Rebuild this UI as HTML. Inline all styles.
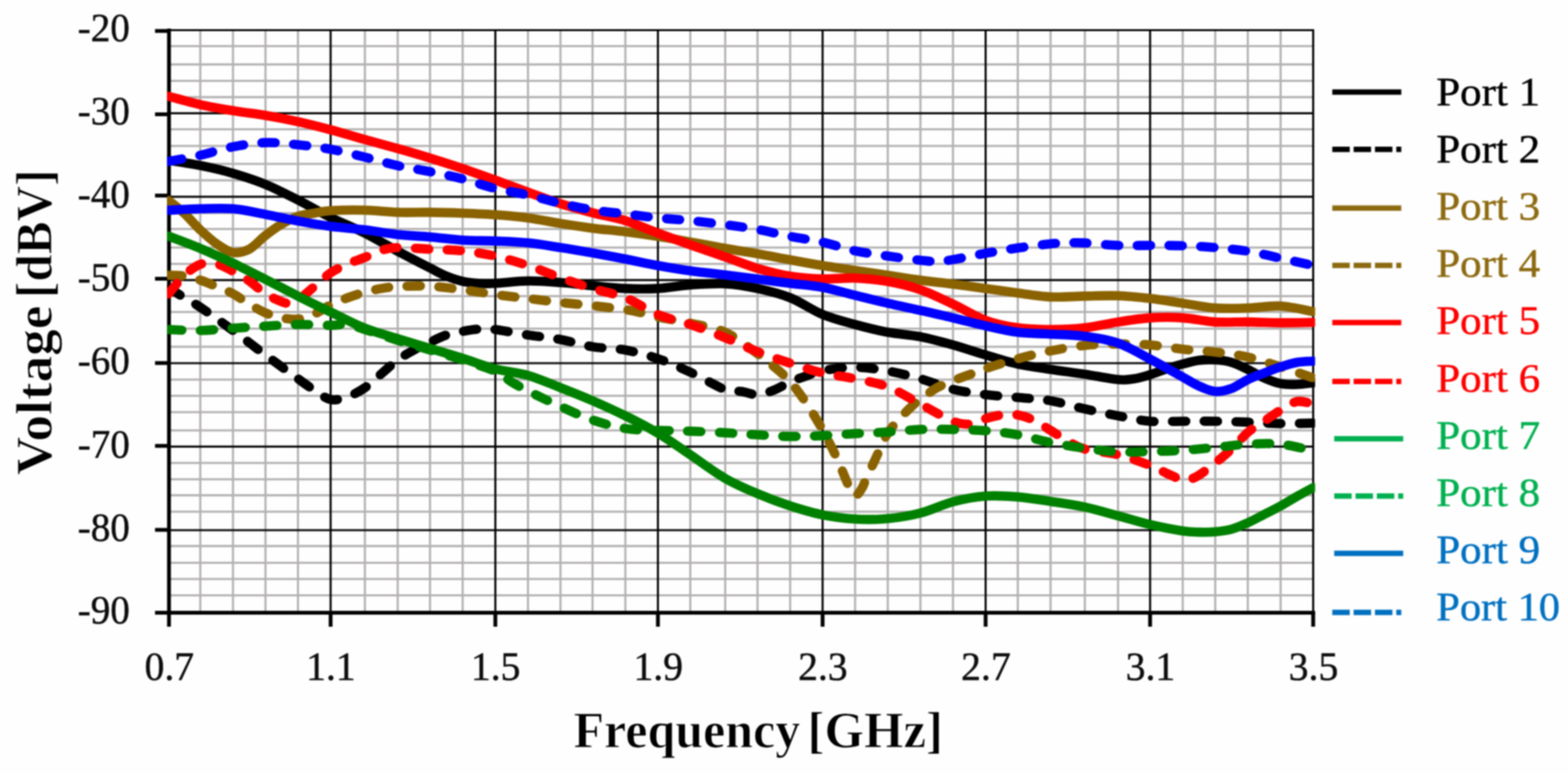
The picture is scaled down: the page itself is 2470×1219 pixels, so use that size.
<!DOCTYPE html>
<html lang="en"><head><meta charset="utf-8"><title>Voltage vs Frequency</title>
<style>html,body{margin:0;padding:0;background:#fff;}body{width:2470px;height:1219px;overflow:hidden;}svg{display:block;}text{font-family:'Liberation Serif', 'DejaVu Serif', serif;}</style></head><body>
<svg width="2470" height="1219" viewBox="0 0 2470 1219">
<rect width="2470" height="1219" fill="#fefefe"/>
<defs><filter id="soft" x="-2%" y="-2%" width="104%" height="104%" color-interpolation-filters="sRGB"><feGaussianBlur stdDeviation="1.1"/></filter></defs>
<g filter="url(#soft)">
<g stroke="#b3b0b0" stroke-width="3.3" fill="none">
<path d="M315.5 47.5V965M367 47.5V965M418.2 47.5V965M469.4 47.5V965M574.8 47.5V965M626.5 47.5V965M677.4 47.5V965M728.8 47.5V965M831.7 47.5V965M882.9 47.5V965M933.4 47.5V965M985.1 47.5V965M1087.4 47.5V965M1142.4 47.5V965M1193.3 47.5V965M1244.7 47.5V965M1347 47.5V965M1398.5 47.5V965M1449.9 47.5V965M1501.2 47.5V965M1603.3 47.5V965M1654.9 47.5V965M1708.9 47.5V965M1761.2 47.5V965M1863.1 47.5V965M1914.3 47.5V965M1965.6 47.5V965M2017.3 47.5V965M266.2 72.6H2068.6M266.2 101.5H2068.6M266.2 127.4H2068.6M266.2 153H2068.6M266.2 203.6H2068.6M266.2 229.8H2068.6M266.2 258.1H2068.6M266.2 284H2068.6M266.2 335.7H2068.6M266.2 360.6H2068.6M266.2 389.9H2068.6M266.2 415.7H2068.6M266.2 466.4H2068.6M266.2 491.4H2068.6M266.2 517.6H2068.6M266.2 546.1H2068.6M266.2 597.8H2068.6M266.2 623.4H2068.6M266.2 649.2H2068.6M266.2 677.8H2068.6M266.2 729.2H2068.6M266.2 754.8H2068.6M266.2 780H2068.6M266.2 805.8H2068.6M266.2 860H2068.6M266.2 886.4H2068.6M266.2 911.9H2068.6M266.2 937.7H2068.6"/>
</g>
<g stroke="#000" stroke-width="3.2" fill="none">
<path d="M520.8 45.9V965M780.3 45.9V965M1036.4 45.9V965M1295.8 45.9V965M1552.6 45.9V965M1811.7 45.9V965M2068.6 45.9V965M266.2 47.5H2070.2M266.2 178.4H2070.2M266.2 309.8H2070.2M266.2 441.2H2070.2M266.2 572H2070.2M266.2 703.4H2070.2M266.2 835H2070.2"/>
</g>
<g stroke="#000" fill="none">
<path d="M266.2 45V987" stroke-width="6"/>
<path d="M244.2 965H2071.6" stroke-width="6"/>
<path d="M520.8 965V987M780.3 965V987M1036.4 965V987M1295.8 965V987M1552.6 965V987M1811.7 965V987M2068.6 965V987M244.2 48.8H266.2M244.2 180.1H266.2M244.2 307.9H266.2M244.2 438.9H266.2M244.2 571.8H266.2M244.2 702.3H266.2M244.2 834.5H266.2" stroke-width="6"/>
</g>
<clipPath id="pc"><rect x="263.2" y="47.5" width="1808.4" height="917.5"/></clipPath>
<g fill="none" stroke-linejoin="round" stroke-linecap="round" clip-path="url(#pc)">
<path d="M265.6 252.4C273.9 253.8 298.6 257.3 315.5 260.7C332.4 264.1 349.9 268 367 273C384.1 278 401.1 283.5 418.2 290.4C435.3 297.4 452.3 306.3 469.4 315C486.5 323.7 503.2 333.8 520.8 342.5C538.4 351.2 557.2 358.3 574.8 367.2C592.4 376.1 609.4 386.6 626.5 395.7C643.6 404.9 664.6 415.6 677.4 422.1C690.2 428.6 694.5 431.3 703.1 434.8C711.7 438.3 720.2 441.2 728.8 443.1C737.4 445 746 445.7 754.5 446.2C763.1 446.8 767.4 446.9 780.3 446.2C793.2 445.6 814.6 442.7 831.7 442.5C848.8 442.2 866 443.7 882.9 445C899.8 446.2 916.4 448.4 933.4 450C950.4 451.6 967.9 453.7 985.1 454.4C1002.3 455.2 1019.4 455.4 1036.4 454.4C1053.5 453.5 1069.7 450 1087.4 448.8C1105.1 447.5 1124.8 445.9 1142.4 446.9C1160.1 447.8 1176.2 450.8 1193.3 454.4C1210.3 458.1 1227.6 462.1 1244.7 468.9C1261.8 475.7 1278.7 488.3 1295.8 495.3C1312.8 502.4 1329.9 506.4 1347 511.1C1364.1 515.7 1381.3 520.1 1398.5 523.3C1415.7 526.5 1432.8 527.1 1449.9 530.4C1467 533.8 1484.1 538.5 1501.2 543.2C1518.3 548 1535.6 554 1552.6 559C1569.6 564.1 1586.2 569.5 1603.3 573.3C1620.3 577.1 1637.3 579.1 1654.9 581.8C1672.5 584.5 1691.2 586.7 1708.9 589.4C1726.6 592.1 1748.3 596.6 1761.2 597.8C1774.1 599 1778 597.8 1786.5 596.5C1794.9 595.2 1803.2 592.6 1811.7 590.1C1820.2 587.5 1828.8 583.8 1837.4 581C1846 578.2 1854.6 575.5 1863.1 573.3C1871.7 571.1 1880.2 568.7 1888.7 567.6C1897.2 566.5 1905.8 566.3 1914.3 566.8C1922.8 567.3 1931.4 568.2 1939.9 570.7C1948.5 573.2 1957 577.7 1965.6 581.8C1974.2 585.9 1982.8 591.5 1991.4 595.2C2000.1 599 2008.7 602.5 2017.3 604.2C2025.9 605.9 2034.4 605.7 2042.9 605.5C2051.5 605.3 2064.3 603.3 2068.6 602.9" stroke="#000000" stroke-width="14.6"/>
<path d="M265.6 453.8C269.8 456.3 282.2 463.9 290.6 468.9C298.9 473.9 302.8 475.3 315.5 483.9C328.2 492.5 349.9 507.9 367 520.5C384.1 533 401.1 546.4 418.2 559C435.3 571.7 456.6 587.3 469.4 596.5C482.2 605.7 486.5 609 495.1 614.4C503.7 619.9 512 627.5 520.8 629.2C529.6 630.9 538.8 627.8 547.8 624.7C556.8 621.6 566 616.6 574.8 610.6C583.6 604.6 592 596.1 600.6 588.8C609.3 581.5 618 573.1 626.5 566.8C635 560.6 643.5 555.9 652 551.3C660.4 546.6 668.9 542.9 677.4 539C685.9 535 694.5 530.4 703.1 527.6C711.7 524.7 720.2 523.4 728.8 521.9C737.4 520.3 746 518.8 754.5 518.3C763.1 517.8 767.4 517.5 780.3 519C793.2 520.6 814.6 525 831.7 527.6C848.8 530.2 866 531.6 882.9 534.7C899.8 537.8 916.4 543.3 933.4 546.1C950.4 548.9 967.9 548.2 985.1 551.3C1002.3 554.4 1019.4 559.1 1036.4 564.9C1053.5 570.7 1069.7 578 1087.4 586.2C1105.1 594.3 1129 608.8 1142.4 613.8C1155.8 618.8 1159.4 615.2 1167.8 616.5C1176.3 617.8 1184.8 621.8 1193.3 621.5C1201.8 621.1 1210.4 617.7 1219 614.4C1227.6 611.1 1236.2 605.4 1244.7 601.6C1253.2 597.9 1261.7 595 1270.2 592C1278.8 589 1283 585.9 1295.8 583.6C1308.6 581.4 1329.9 578.3 1347 578.5C1364.1 578.6 1381.3 581.2 1398.5 584.3C1415.7 587.3 1432.8 591.7 1449.9 596.5C1467 601.3 1484.1 609 1501.2 613.2C1518.3 617.3 1535.6 619.3 1552.6 621.5C1569.6 623.6 1586.2 624.4 1603.3 626C1620.3 627.6 1637.3 628.1 1654.9 631.1C1672.5 634.1 1691.2 640.1 1708.9 644C1726.6 648 1744.1 651.7 1761.2 654.9C1778.3 658.2 1794.7 662.1 1811.7 663.5C1828.7 664.9 1846 663.5 1863.1 663.5C1880.2 663.5 1897.2 663.3 1914.3 663.5C1931.4 663.7 1948.4 664.3 1965.6 664.9C1982.8 665.5 2000.1 666.8 2017.3 667.1C2034.5 667.3 2060 666.5 2068.6 666.4" stroke="#000000" stroke-width="14.6" stroke-dasharray="21 29" stroke-linecap="round"/>
<path d="M265.6 315.8C269.8 319.2 282.2 328.7 290.6 336.4C298.9 344.2 307.1 354.1 315.5 362.1C324 370 332.7 378.1 341.2 384C349.8 390 358.4 396.2 367 397.6C375.6 399 384.1 396.9 392.6 392.5C401.1 388 409.7 377.4 418.2 370.9C426.7 364.3 435.3 358.2 443.8 353.1C452.3 348.1 460.9 343.6 469.4 340.7C478 337.8 486.5 337.2 495.1 335.7C503.7 334.2 507.5 332.6 520.8 331.8C534.1 331 557.2 330.6 574.8 331C592.4 331.5 609.4 333.8 626.5 334.4C643.6 335 660.4 334.2 677.4 334.4C694.5 334.6 711.6 335.1 728.8 335.7C745.9 336.3 763.1 336.9 780.3 338.2C797.5 339.4 814.6 340.9 831.7 343.2C848.8 345.5 866 349.2 882.9 351.9C899.8 354.6 916.4 357.2 933.4 359.4C950.4 361.5 967.9 362.8 985.1 365C1002.3 367.2 1019.4 369.6 1036.4 372.3C1053.5 375 1069.7 378 1087.4 381.1C1105.1 384.3 1124.8 388.1 1142.4 391.2C1160.1 394.3 1176.2 396.6 1193.3 399.6C1210.3 402.6 1227.6 406.1 1244.7 409.2C1261.8 412.4 1278.7 415.5 1295.8 418.2C1312.8 421 1329.9 423.3 1347 425.9C1364.1 428.4 1381.3 431 1398.5 433.5C1415.7 436.1 1432.8 438.9 1449.9 441.2C1467 443.5 1484.1 445.3 1501.2 447.5C1518.3 449.7 1535.6 452.1 1552.6 454.4C1569.6 456.7 1586.2 459.2 1603.3 461.4C1620.3 463.6 1637.3 466.8 1654.9 467.6C1672.5 468.5 1691.2 466.7 1708.9 466.4C1726.6 466.1 1744.1 465.1 1761.2 465.8C1778.3 466.4 1794.7 468.2 1811.7 470.1C1828.7 472.1 1846 475.1 1863.1 477.6C1880.2 480.1 1897.2 483.9 1914.3 485.1C1931.4 486.4 1948.4 485.7 1965.6 485.1C1982.8 484.6 2000.1 481.1 2017.3 482C2034.5 483 2060 489.3 2068.6 490.8" stroke="#8a6200" stroke-width="14.6"/>
<path d="M265.6 433.5C269.8 433.8 282.2 433.5 290.6 434.8C298.9 436.1 307.1 438.5 315.5 441.2C324 443.9 332.7 447.7 341.2 451.3C349.8 454.8 358.4 458 367 462.6C375.6 467.2 384.1 473.9 392.6 478.9C401.1 483.9 409.7 489.1 418.2 492.7C426.7 496.3 435.3 498.9 443.8 500.6C452.3 502.2 460.9 503.5 469.4 502.5C478 501.6 486.5 498.4 495.1 494.7C503.7 490.9 512 484.4 520.8 480.1C529.6 475.9 538.8 472.2 547.8 468.9C556.8 465.6 566 462.5 574.8 460.1C583.6 457.7 592 455.9 600.6 454.4C609.3 453 613.7 451.9 626.5 451.3C639.3 450.7 660.4 449.9 677.4 450.8C694.5 451.6 711.6 454.1 728.8 456.3C745.9 458.5 763.1 461.6 780.3 463.9C797.5 466.2 814.6 468.1 831.7 470.1C848.8 472.2 866 474.5 882.9 476.4C899.8 478.3 916.4 479.5 933.4 481.4C950.4 483.3 972.2 485.8 985.1 487.7C998 489.5 1002.2 490.8 1010.8 492.7C1019.3 494.6 1023.6 496.5 1036.4 499.3C1049.2 502 1069.7 505.1 1087.4 509.1C1105.1 513.1 1124.8 515.3 1142.4 523.3C1160.1 531.3 1180.5 548.1 1193.3 557.1C1206.1 566.1 1210.4 569.8 1219 577.2C1227.6 584.5 1236.2 591.4 1244.7 601C1253.2 610.6 1261.7 622.3 1270.2 635C1278.8 647.7 1287.7 662.5 1295.8 677.1C1303.9 691.7 1311.4 706.6 1318.8 722.8C1326.3 738.9 1335.6 764.2 1340.6 773.7C1345.6 783.2 1346 780.8 1348.9 780C1351.8 779.2 1355.6 772.4 1357.9 768.7C1360.3 764.9 1358.6 767.1 1363.1 757.3C1367.6 747.5 1379.1 722.4 1385 709.9C1390.9 697.3 1393 690.8 1398.5 682.3C1404 673.7 1410.8 666.3 1417.8 658.6C1424.7 651 1434.9 641.1 1440.3 636.3C1445.6 631.5 1444.3 633.9 1449.9 629.9C1455.5 625.8 1465.1 616.9 1473.6 611.9C1482.2 606.9 1492 603.5 1501.2 599.7C1510.4 596 1520.3 592.6 1528.8 589.4C1537.4 586.2 1540.2 584.5 1552.6 580.4C1565 576.3 1586.2 569.6 1603.3 565C1620.3 560.4 1637.3 556.1 1654.9 552.6C1672.5 549.1 1691.2 545.8 1708.9 544C1726.6 542.2 1744.1 541.9 1761.2 541.8C1778.3 541.7 1794.7 541.9 1811.7 543.2C1828.7 544.6 1846 548.1 1863.1 550C1880.2 551.9 1897.2 552.5 1914.3 554.5C1931.4 556.6 1948.4 558.4 1965.6 562.3C1982.8 566.2 2000.1 572.3 2017.3 577.8C2034.5 583.3 2060 592.3 2068.6 595.2" stroke="#8a6200" stroke-width="14.6" stroke-dasharray="21 29" stroke-linecap="round"/>
<path d="M265.6 151.7C273.9 153.9 298.6 161 315.5 164.8C332.4 168.6 349.9 171.5 367 174.3C384.1 177.2 401.1 178.9 418.2 181.8C435.3 184.7 452.3 187.9 469.4 191.6C486.5 195.4 503.2 199.7 520.8 204.4C538.4 209.1 557.2 214.9 574.8 219.8C592.4 224.8 609.4 229.2 626.5 234C643.6 238.9 660.4 243.8 677.4 249C694.5 254.3 711.6 259.7 728.8 265.5C745.9 271.3 763.1 277.5 780.3 283.7C797.5 289.9 814.6 296.5 831.7 302.7C848.8 308.9 866 315.4 882.9 320.8C899.8 326.2 916.4 330.6 933.4 335.1C950.4 339.5 967.9 342.2 985.1 347.5C1002.3 352.9 1019.4 360.8 1036.4 367.2C1053.5 373.5 1069.7 379.4 1087.4 385.7C1105.1 391.9 1124.8 398.6 1142.4 404.7C1160.1 410.9 1176.2 417.7 1193.3 422.7C1210.3 427.7 1227.6 432.2 1244.7 435C1261.8 437.7 1278.7 438.8 1295.8 439.3C1312.8 439.8 1329.9 437.3 1347 438C1364.1 438.7 1381.3 440.3 1398.5 443.3C1415.7 446.4 1432.8 450.4 1449.9 456.3C1467 462.2 1484.1 470.9 1501.2 478.9C1518.3 486.9 1535.6 498.3 1552.6 504.5C1569.6 510.7 1586.2 513.9 1603.3 516.3C1620.3 518.7 1637.3 519 1654.9 519C1672.5 519 1691.2 518.3 1708.9 516.3C1726.6 514.3 1744.1 509.7 1761.2 507.1C1778.3 504.5 1794.7 501.7 1811.7 500.6C1828.7 499.5 1846 499.5 1863.1 500.6C1880.2 501.7 1897.2 506 1914.3 507.1C1931.4 508.2 1948.4 506.9 1965.6 507.1C1982.8 507.3 2000.1 508.3 2017.3 508.4C2034.5 508.5 2060 507.9 2068.6 507.8" stroke="#ff0000" stroke-width="14.6"/>
<path d="M265.6 462.6C269.8 457.8 282.2 441.3 290.6 433.5C298.9 425.8 307.1 419.3 315.5 416.3C324 413.4 332.7 413.9 341.2 415.7C349.8 417.5 358.4 422.7 367 427.2C375.6 431.6 384.1 436.6 392.6 442.5C401.1 448.4 409.7 457.2 418.2 462.6C426.7 468.1 437.4 472.6 443.8 475.2C450.2 477.7 452.3 478.1 456.6 477.6C460.9 477.2 463 477 469.4 472.6C475.8 468.3 486.5 458.4 495.1 451.3C503.7 444.1 512 435.7 520.8 429.7C529.6 423.8 538.8 419.8 547.8 415.7C556.8 411.6 566 408.9 574.8 405.4C583.6 401.8 592 397 600.6 394.4C609.3 391.8 613.7 390.2 626.5 389.9C639.3 389.6 660.4 391.6 677.4 392.5C694.5 393.3 711.6 393.2 728.8 395.1C745.9 396.9 763.1 399.6 780.3 403.4C797.5 407.3 814.6 412.6 831.7 418.2C848.8 423.9 866 431.3 882.9 437.4C899.8 443.4 916.4 449.2 933.4 454.4C950.4 459.7 967.9 462.1 985.1 468.9C1002.3 475.7 1019.4 488.3 1036.4 495.3C1053.5 502.4 1069.7 505 1087.4 511.1C1105.1 517.1 1124.8 524.7 1142.4 531.9C1160.1 539 1176.2 547.2 1193.3 553.9C1210.3 560.6 1227.6 566.4 1244.7 572C1261.8 577.6 1278.7 583.4 1295.8 587.5C1312.8 591.6 1329.9 592.9 1347 596.5C1364.1 600.1 1381.3 602.7 1398.5 609.3C1415.7 616 1432.8 627.3 1449.9 636.3C1467 645.3 1488.4 658.3 1501.2 663.5C1514 668.7 1518.3 668.5 1526.9 667.8C1535.5 667.1 1544.1 661.6 1552.6 659.2C1561.1 656.8 1569.5 654.4 1577.9 653.5C1586.4 652.5 1594.8 652.1 1603.3 653.5C1611.8 654.9 1620.5 658 1629.1 662.1C1637.7 666.1 1646.1 672.4 1654.9 677.8C1663.7 683.2 1672.9 689.5 1681.9 694.4C1690.9 699.4 1695.7 703.6 1708.9 707.3C1722.1 710.9 1744.1 712 1761.2 716.3C1778.3 720.6 1799 728.2 1811.7 733C1824.4 737.9 1828.8 741.4 1837.4 745.2C1846 749 1856.7 754.6 1863.1 756.1C1869.5 757.6 1871.6 755.4 1875.9 754.2C1880.2 752.9 1882.3 752.6 1888.7 748.4C1895.1 744.2 1905.8 736.1 1914.3 729.2C1922.8 722.3 1931.4 715.3 1939.9 707.3C1948.5 699.2 1957 688.3 1965.6 681C1974.2 673.7 1982.8 669.3 1991.4 663.5C2000.1 657.7 2008.7 651.2 2017.3 646C2025.9 640.8 2034.4 634 2042.9 632.4C2051.5 630.8 2064.3 635.7 2068.6 636.3" stroke="#ff0000" stroke-width="14.6" stroke-dasharray="21 29" stroke-linecap="round"/>
<path d="M265.6 371.9C273.9 375.1 298.6 384.1 315.5 391.2C332.4 398.3 349.9 406.3 367 414.4C384.1 422.5 401.1 431.3 418.2 439.9C435.3 448.6 452.3 457.8 469.4 466.4C486.5 475 503.2 483 520.8 491.4C538.4 499.8 557.2 510 574.8 516.9C592.4 523.9 609.4 528 626.5 533.3C643.6 538.6 660.4 543.5 677.4 548.7C694.5 553.8 711.6 558.8 728.8 564.2C745.9 569.6 763.1 576.5 780.3 581C797.5 585.5 814.6 586.4 831.7 591.3C848.8 596.3 866 604 882.9 610.6C899.8 617.2 916.4 623.8 933.4 631.1C950.4 638.5 967.9 646.4 985.1 654.9C1002.3 663.4 1019.4 672 1036.4 682.3C1053.5 692.5 1069.7 704.4 1087.4 716.3C1105.1 728.2 1124.8 743.3 1142.4 753.5C1160.1 763.7 1176.2 770.3 1193.3 777.5C1210.3 784.7 1227.6 791.2 1244.7 796.8C1261.8 802.3 1278.7 807.5 1295.8 810.9C1312.8 814.4 1329.9 816.5 1347 817.5C1364.1 818.5 1381.3 818.3 1398.5 816.8C1415.7 815.2 1432.8 812.4 1449.9 808C1467 803.6 1484.1 794.8 1501.2 790.3C1518.3 785.9 1535.6 782.6 1552.6 781.3C1569.6 780 1586.2 781.2 1603.3 782.6C1620.3 784 1637.3 787 1654.9 789.7C1672.5 792.4 1691.2 794.9 1708.9 798.7C1726.6 802.5 1744.1 807.8 1761.2 812.4C1778.3 817 1794.7 822.3 1811.7 826.2C1828.7 830.2 1850.3 834.3 1863.1 836.2C1875.9 838.2 1880.2 837.9 1888.7 838.1C1897.2 838.3 1905.8 838.3 1914.3 837.5C1922.8 836.7 1931.4 835.9 1939.9 833.5C1948.5 831.2 1957 827.2 1965.6 823.3C1974.2 819.4 1982.8 814.6 1991.4 810.2C2000.1 805.8 2008.7 801.5 2017.3 796.8C2025.9 792.1 2034.4 786.7 2042.9 781.9C2051.5 777.1 2064.3 770.3 2068.6 768" stroke="#008000" stroke-width="14.6"/>
<path d="M265.6 519C273.9 519.3 298.6 520.8 315.5 520.5C332.4 520.1 349.9 518.1 367 516.9C384.1 515.8 401.1 514.7 418.2 513.7C435.3 512.7 452.3 511.3 469.4 511.1C486.5 510.8 507.7 512.4 520.8 512.4C533.9 512.4 538.8 509.9 547.8 511.1C556.8 512.2 561.7 514.8 574.8 519C587.9 523.2 609.4 530.7 626.5 536.1C643.6 541.5 660.4 546.2 677.4 551.3C694.5 556.4 711.6 561.2 728.8 566.8C745.9 572.4 767.4 579.1 780.3 584.9C793.2 590.7 797.4 596.5 806 601.6C814.6 606.8 818.9 609.3 831.7 615.7C844.5 622.1 866 632.6 882.9 640.2C899.8 647.8 916.4 655.6 933.4 661.4C950.4 667.1 967.9 672.2 985.1 674.9C1002.3 677.7 1019.4 677.1 1036.4 677.8C1053.5 678.5 1069.7 678.4 1087.4 679.1C1105.1 679.7 1124.8 680.7 1142.4 681.6C1160.1 682.6 1176.2 683.9 1193.3 684.8C1210.3 685.8 1227.6 687.2 1244.7 687.4C1261.8 687.6 1278.7 686.9 1295.8 686.1C1312.8 685.4 1329.9 683.9 1347 682.9C1364.1 682 1381.3 681.5 1398.5 680.4C1415.7 679.3 1432.8 677 1449.9 676.4C1467 675.7 1484.1 676 1501.2 676.4C1518.3 676.7 1535.6 677 1552.6 678.4C1569.6 679.9 1586.2 681.7 1603.3 684.8C1620.3 687.9 1637.3 693.5 1654.9 697C1672.5 700.5 1691.2 703.5 1708.9 706C1726.6 708.4 1744.1 710.9 1761.2 711.8C1778.3 712.6 1794.7 711.6 1811.7 711.1C1828.7 710.7 1846 710.3 1863.1 709.2C1880.2 708.1 1897.2 706.3 1914.3 704.7C1931.4 703.1 1948.4 700.4 1965.6 699.6C1982.8 698.7 2000.1 697.8 2017.3 699.6C2034.5 701.3 2060 708.1 2068.6 709.9" stroke="#008000" stroke-width="14.6" stroke-dasharray="21 29" stroke-linecap="round"/>
<path d="M265.6 331C273.9 330.7 298.6 329.2 315.5 328.8C332.4 328.5 349.9 327.4 367 328.8C384.1 330.3 401.1 334.3 418.2 337.6C435.3 340.8 452.3 345 469.4 348.1C486.5 351.3 503.2 354.2 520.8 356.5C538.4 358.8 557.2 359.9 574.8 362.1C592.4 364.2 609.4 367.5 626.5 369.4C643.6 371.2 660.4 371.7 677.4 373.2C694.5 374.7 711.6 377.1 728.8 378.2C745.9 379.3 763.1 378.9 780.3 379.6C797.5 380.4 814.6 380.9 831.7 382.6C848.8 384.3 866 387.3 882.9 389.9C899.8 392.5 916.4 395.4 933.4 398.4C950.4 401.4 967.9 404.7 985.1 408C1002.3 411.3 1019.4 415.2 1036.4 418.2C1053.5 421.3 1069.7 424.1 1087.4 426.5C1105.1 429 1124.8 430.9 1142.4 433C1160.1 435.2 1176.2 437.3 1193.3 439.5C1210.3 441.7 1227.6 444.1 1244.7 446.2C1261.8 448.4 1278.7 449.4 1295.8 452.5C1312.8 455.7 1329.9 461 1347 465.1C1364.1 469.3 1381.3 473.7 1398.5 477.6C1415.7 481.6 1432.8 485.1 1449.9 488.9C1467 492.7 1484.1 496.5 1501.2 500.6C1518.3 504.6 1535.6 509.4 1552.6 513.1C1569.6 516.9 1586.2 521.1 1603.3 523.3C1620.3 525.5 1637.3 525.1 1654.9 526.2C1672.5 527.2 1691.2 527.3 1708.9 529.7C1726.6 532.1 1744.1 534.4 1761.2 540.4C1778.3 546.4 1794.7 556.6 1811.7 565.5C1828.7 574.4 1850.3 586.8 1863.1 593.9C1875.9 601 1880.2 604.3 1888.7 608C1897.2 611.8 1905.8 615.8 1914.3 616.5C1922.8 617.1 1931.4 615 1939.9 611.9C1948.5 608.8 1957 601.9 1965.6 597.8C1974.2 593.7 1982.8 590.8 1991.4 587.5C2000.1 584.1 2008.7 580.6 2017.3 577.8C2025.9 575 2034.4 572.2 2042.9 570.7C2051.5 569.2 2064.3 569.1 2068.6 568.8" stroke="#0000ff" stroke-width="14.6"/>
<path d="M265.6 254.1C273.9 252.5 298.6 248.3 315.5 244.5C332.4 240.7 349.9 234.5 367 231.2C384.1 227.9 401.1 225.1 418.2 224.6C435.3 224 452.3 226.2 469.4 228C486.5 229.7 503.2 231.8 520.8 235C538.4 238.3 557.2 243.2 574.8 247.5C592.4 251.8 609.4 257.1 626.5 260.9C643.6 264.8 660.4 266.9 677.4 270.4C694.5 273.9 711.6 277.4 728.8 281.8C745.9 286.2 763.1 292.7 780.3 296.9C797.5 301.1 814.6 303.3 831.7 307.2C848.8 311.1 866 316.3 882.9 320.2C899.8 324 916.4 327.7 933.4 330.5C950.4 333.3 967.9 334.8 985.1 336.9C1002.3 339.1 1019.4 341.4 1036.4 343.2C1053.5 344.9 1069.7 345.7 1087.4 347.5C1105.1 349.3 1124.8 351.6 1142.4 353.9C1160.1 356.2 1176.2 358.3 1193.3 361.3C1210.3 364.4 1227.6 369 1244.7 372.3C1261.8 375.7 1278.7 377.6 1295.8 381.4C1312.8 385.2 1329.9 391.4 1347 395.1C1364.1 398.7 1381.3 400.8 1398.5 403.3C1415.7 405.8 1437.1 408.5 1449.9 409.9C1462.7 411.3 1467 412 1475.6 411.8C1484.1 411.7 1488.4 411 1501.2 408.9C1514 406.7 1535.6 402 1552.6 398.9C1569.6 395.9 1586.2 393 1603.3 390.5C1620.3 388.1 1641.8 385.4 1654.9 384C1668 382.7 1672.9 382.8 1681.9 382.6C1690.9 382.3 1695.7 381.9 1708.9 382.6C1722.1 383.2 1744.1 385.9 1761.2 386.5C1778.3 387.2 1794.7 386.5 1811.7 386.5C1828.7 386.6 1846 386.4 1863.1 387C1880.2 387.5 1897.2 388.4 1914.3 389.9C1931.4 391.4 1948.4 392.9 1965.6 395.7C1982.8 398.5 2000.1 402.9 2017.3 406.7C2034.5 410.4 2060 416.3 2068.6 418.2" stroke="#0000ff" stroke-width="14.6" stroke-dasharray="21 29" stroke-linecap="round"/>
</g>
<g font-size="62.5" fill="#0c0c0c" stroke="#0c0c0c" stroke-width="0.7">
<text x="204.5" y="64.7" text-anchor="end" textLength="82" lengthAdjust="spacingAndGlyphs">-20</text>
<text x="204.5" y="195.6" text-anchor="end" textLength="82" lengthAdjust="spacingAndGlyphs">-30</text>
<text x="204.5" y="327" text-anchor="end" textLength="82" lengthAdjust="spacingAndGlyphs">-40</text>
<text x="204.5" y="458.4" text-anchor="end" textLength="82" lengthAdjust="spacingAndGlyphs">-50</text>
<text x="204.5" y="589.2" text-anchor="end" textLength="82" lengthAdjust="spacingAndGlyphs">-60</text>
<text x="204.5" y="720.6" text-anchor="end" textLength="82" lengthAdjust="spacingAndGlyphs">-70</text>
<text x="204.5" y="852.2" text-anchor="end" textLength="82" lengthAdjust="spacingAndGlyphs">-80</text>
<text x="204.5" y="982.2" text-anchor="end" textLength="82" lengthAdjust="spacingAndGlyphs">-90</text>
<text x="266.7" y="1070.8" text-anchor="middle" textLength="78" lengthAdjust="spacingAndGlyphs">0.7</text>
<text x="521.3" y="1070.8" text-anchor="middle" textLength="78" lengthAdjust="spacingAndGlyphs">1.1</text>
<text x="780.8" y="1070.8" text-anchor="middle" textLength="78" lengthAdjust="spacingAndGlyphs">1.5</text>
<text x="1036.9" y="1070.8" text-anchor="middle" textLength="78" lengthAdjust="spacingAndGlyphs">1.9</text>
<text x="1296.3" y="1070.8" text-anchor="middle" textLength="78" lengthAdjust="spacingAndGlyphs">2.3</text>
<text x="1553.1" y="1070.8" text-anchor="middle" textLength="78" lengthAdjust="spacingAndGlyphs">2.7</text>
<text x="1812.2" y="1070.8" text-anchor="middle" textLength="78" lengthAdjust="spacingAndGlyphs">3.1</text>
<text x="2069.1" y="1070.8" text-anchor="middle" textLength="78" lengthAdjust="spacingAndGlyphs">3.5</text>
</g>
<g font-weight="bold" fill="#000" stroke="#fefefe" stroke-width="1.2" font-size="80">
<text y="1177"><tspan x="903.5" textLength="357" lengthAdjust="spacingAndGlyphs">Frequency</tspan><tspan dx="0" fill="none" stroke="none"> </tspan><tspan x="1272" textLength="213.5" lengthAdjust="spacingAndGlyphs">[GHz]</tspan></text>
<text transform="translate(81 0) rotate(-90)" y="0"><tspan x="-748.3" textLength="267" lengthAdjust="spacingAndGlyphs">Voltage</tspan><tspan dx="0" fill="none" stroke="none"> </tspan><tspan x="-469.4" textLength="202.6" lengthAdjust="spacingAndGlyphs">[dBV]</tspan></text>
</g>
<g font-size="63">
<path d="M2098.7 145H2207.4" stroke="#000" stroke-width="8.5" fill="none"/>
<text x="2262.5" y="165.9" fill="#000" stroke="#000" stroke-width="0.7" textLength="163.5" lengthAdjust="spacingAndGlyphs">Port 1</text>
<path d="M2098.7 235.3H2207.4" stroke="#000" stroke-width="8.5" fill="none" stroke-dasharray="27.5 6.1"/>
<text x="2262.5" y="256" fill="#000" stroke="#000" stroke-width="0.7" textLength="163.5" lengthAdjust="spacingAndGlyphs">Port 2</text>
<path d="M2098.7 327.8H2207.4" stroke="#8c6a10" stroke-width="8.5" fill="none"/>
<text x="2262.5" y="346.1" fill="#8c6a10" stroke="#8c6a10" stroke-width="0.7" textLength="163.5" lengthAdjust="spacingAndGlyphs">Port 3</text>
<path d="M2098.7 418.1H2207.4" stroke="#8c6a10" stroke-width="8.5" fill="none" stroke-dasharray="27.5 6.1"/>
<text x="2262.5" y="436.3" fill="#8c6a10" stroke="#8c6a10" stroke-width="0.7" textLength="163.5" lengthAdjust="spacingAndGlyphs">Port 4</text>
<path d="M2098.7 507.9H2207.4" stroke="#ff0000" stroke-width="8.5" fill="none"/>
<text x="2262.5" y="526.4" fill="#ff0000" stroke="#ff0000" stroke-width="0.7" textLength="163.5" lengthAdjust="spacingAndGlyphs">Port 5</text>
<path d="M2098.7 600.7H2207.4" stroke="#ff0000" stroke-width="8.5" fill="none" stroke-dasharray="27.5 6.1"/>
<text x="2262.5" y="616.5" fill="#ff0000" stroke="#ff0000" stroke-width="0.7" textLength="163.5" lengthAdjust="spacingAndGlyphs">Port 6</text>
<path d="M2101.7 691H2210.4" stroke="#00b050" stroke-width="8.5" fill="none"/>
<text x="2262.5" y="706.6" fill="#00b050" stroke="#00b050" stroke-width="0.7" textLength="163.5" lengthAdjust="spacingAndGlyphs">Port 7</text>
<path d="M2101.7 781.2H2210.4" stroke="#00b050" stroke-width="8.5" fill="none" stroke-dasharray="27.5 6.1"/>
<text x="2262.5" y="796.7" fill="#00b050" stroke="#00b050" stroke-width="0.7" textLength="163.5" lengthAdjust="spacingAndGlyphs">Port 8</text>
<path d="M2101.7 871.5H2210.4" stroke="#0070c0" stroke-width="8.5" fill="none"/>
<text x="2262.5" y="886.9" fill="#0070c0" stroke="#0070c0" stroke-width="0.7" textLength="163.5" lengthAdjust="spacingAndGlyphs">Port 9</text>
<path d="M2098.7 964.6H2207.4" stroke="#0070c0" stroke-width="8.5" fill="none" stroke-dasharray="27.5 6.1"/>
<text x="2262.5" y="977" fill="#0070c0" stroke="#0070c0" stroke-width="0.7" textLength="195" lengthAdjust="spacingAndGlyphs">Port 10</text>
</g>
</g>
</svg></body></html>
